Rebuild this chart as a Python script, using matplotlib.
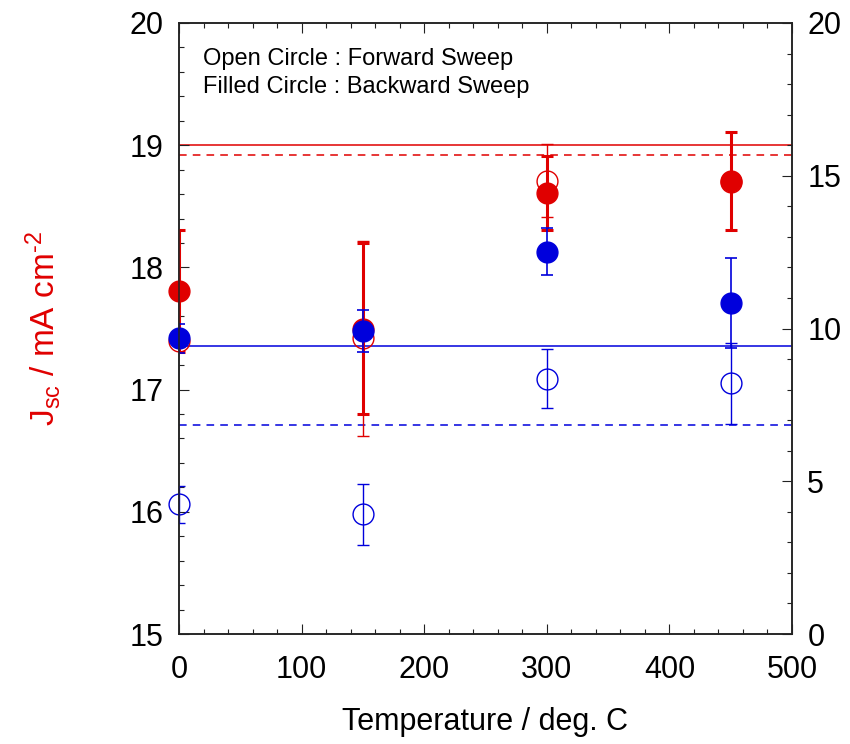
import matplotlib
matplotlib.use("Agg")
import matplotlib.pyplot as plt
from matplotlib.ticker import MultipleLocator

plt.rcParams['font.family'] = ['Liberation Sans', 'DejaVu Sans']
plt.rcParams['mathtext.fontset'] = 'custom'
plt.rcParams['mathtext.rm'] = 'Liberation Sans'
plt.rcParams['mathtext.it'] = 'Liberation Sans:italic'

# Jsc vs. annealing temperature
temps = [0, 150, 300, 450]

red_fwd = [17.40, 17.42, 18.71, 18.70]
red_fwd_err = [0.05, 0.80, 0.30, 0.05]
red_bwd = [17.81, 17.50, 18.61, 18.71]
red_bwd_err = [0.50, 0.70, 0.30, 0.40]

blue_fwd = [16.06, 15.98, 17.09, 17.05]
blue_fwd_err = [0.15, 0.25, 0.24, 0.33]
blue_bwd = [17.42, 17.48, 18.13, 17.71]
blue_bwd_err = [0.12, 0.17, 0.19, 0.37]

# reference levels
red_ref_bwd, red_ref_fwd = 19.0, 18.92
blue_ref_bwd, blue_ref_fwd = 17.36, 16.71

RED = '#E00000'
BLUE = '#0000DC'

fig = plt.figure(figsize=(8.5, 7.44), dpi=100)
ax = fig.add_axes([179/850, 1-634/744, (792-179)/850, (634-23)/744])

ax.axhline(red_ref_bwd, color=RED, lw=1.1, zorder=1)
ax.axhline(red_ref_fwd, color=RED, lw=1.1, ls=(0, (5, 4)), zorder=1)
ax.axhline(blue_ref_bwd, color=BLUE, lw=1.1, zorder=1)
ax.axhline(blue_ref_fwd, color=BLUE, lw=1.1, ls=(0, (5, 4)), zorder=1)

ms = 15


def series(y, err, color, filled, elw, z):
    # error bars are clipped at the frame, markers are not
    ax.errorbar(temps, y, yerr=err, fmt='none', ecolor=color, elinewidth=elw,
                capsize=4.5, capthick=elw, zorder=z)
    ax.plot(temps, y, 'o', ms=ms, mfc=color if filled else 'none', mec=color,
            mew=1.0, ls='none', zorder=z + 0.5, clip_on=False)


series(red_fwd, red_fwd_err, RED, False, 1.0, 3)
series(red_bwd, red_bwd_err, RED, True, 2.2, 4)
series(blue_fwd, blue_fwd_err, BLUE, False, 1.0, 5)
series(blue_bwd, blue_bwd_err, BLUE, True, 1.2, 6)

ax.set_xlim(0, 500)
ax.set_ylim(15, 20)
ax.xaxis.set_major_locator(MultipleLocator(100))
ax.xaxis.set_minor_locator(MultipleLocator(20))
ax.yaxis.set_major_locator(MultipleLocator(1))
ax.yaxis.set_minor_locator(MultipleLocator(0.2))
ax.tick_params(which='both', direction='in', top=True, right=False, width=0.8,
               labelsize=22, color='#222222')
ax.tick_params(which='major', length=7)
ax.tick_params(which='minor', length=3.6)
ax.tick_params(axis='y', pad=11)
ax.tick_params(axis='x', pad=15)

ax2 = ax.twinx()
ax2.set_ylim(0, 20)
ax2.yaxis.set_major_locator(MultipleLocator(5))
ax2.yaxis.set_minor_locator(MultipleLocator(1))
ax2.tick_params(which='both', direction='in', width=0.8, labelsize=22, pad=11,
                color='#222222')
ax2.tick_params(which='major', length=7)
ax2.tick_params(which='minor', length=3.6)

for a in (ax, ax2):
    for s in a.spines.values():
        s.set_linewidth(1.1)
        s.set_color('#222222')

ax.set_xlabel('Temperature / deg. C', fontsize=22, labelpad=16)
ax.set_ylabel('$\\mathrm{J}_{\\rm sc}$ / mA cm$^{\u20102}$', fontsize=24, color=RED,
              labelpad=48)

fig.text(203/850, 1-59/744, 'Open Circle : Forward Sweep', fontsize=17, va='center')
fig.text(203/850, 1-87/744, 'Filled Circle : Backward Sweep', fontsize=17, va='center')

fig.savefig('out.png', dpi=100)
